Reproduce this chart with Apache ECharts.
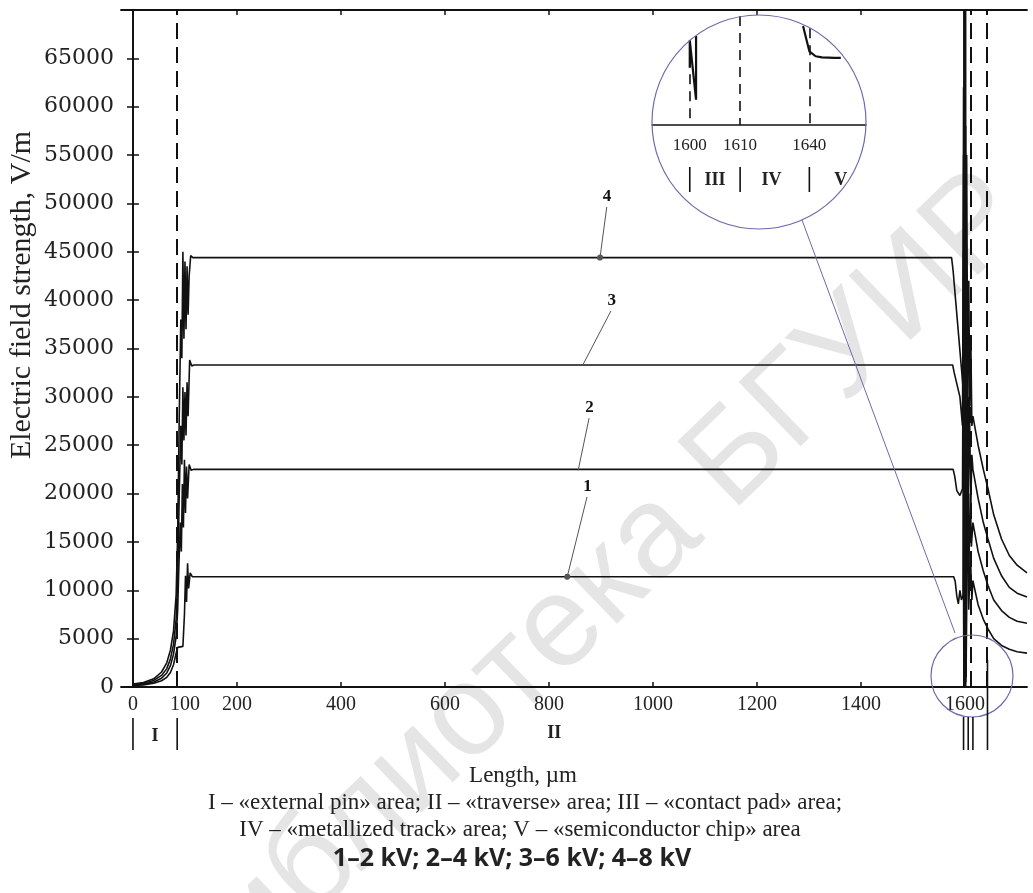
<!DOCTYPE html>
<html>
<head>
<meta charset="utf-8">
<script src="https://cdn.jsdelivr.net/npm/echarts@6/dist/echarts.min.js"></script>
<style>
html, body { margin: 0; padding: 0; background: #fff; }
#main { width: 1033px; height: 893px; }
</style>
</head>
<body>
<div id="main"></div>
<script>
// ---- data ----
const xTicks = [0, 200, 400, 600, 800, 1000, 1200, 1400, 1600];
const xLabels = [0, 100, 200, 400, 600, 800, 1000, 1200, 1400, 1600];

// field strength along the length, V/m  (x in um)
const curve2kV = [[0,150],[20,220],[40,380],[55,650],[65,1000],[72,1500],[78,2300],[83,3500],[86,4100],[96,4200],
  [99,7500],[101,11500],[103,8800],[105,12800],[107,10200],[110,11800],[114,11400],
  [1578,11400],[1581,10900],[1584,9400],[1587,8600],[1590,10000],[1593,9000],[1596,9500],
  [1597,35000],[1597.5,0],[1598,48000],[1598.5,0],[1599,50000],[1599.5,0],[1600,45000],[1600.5,0],[1601,40000],[1602,1000],
  [1604,22000],[1607,8000],[1610,14000],[1613,9000],
  [1615,11000],[1625,8500],[1635,7000],[1644,6000],[1655,5000],[1670,4300],[1685,3900],[1700,3650],[1719,3500]];
const curve4kV = [[0,200],[20,300],[40,520],[55,900],[65,1450],[72,2200],[78,3400],[83,5200],[86,8000],[88,12000],
  [91,17000],[93,14000],[95,21000],[97,16500],[99,23500],[101,18000],[103,22800],[105,19500],[108,23000],[112,22400],[116,22500],
  [1577,22500],[1580,21800],[1584,20300],[1590,19800],[1595,20500],
  [1597,45000],[1597.5,0],[1598,60000],[1598.5,0],[1599,58000],[1599.5,0],[1600,62000],[1600.5,0],[1601,50000],[1602,1500],
  [1604,30000],[1607,12000],[1610,20000],[1612,14500],
  [1615,17000],[1625,14000],[1635,12000],[1644,10500],[1655,9000],[1670,7900],[1685,7200],[1700,6800],[1719,6600]];
const curve6kV = [[0,250],[20,380],[40,680],[55,1200],[65,1900],[72,2900],[78,4400],[83,7000],[86,11000],[89,20000],
  [92,27000],[94,23000],[96,31000],[98,25500],[100,30500],[102,26000],[104,31500],[106,28000],[109,33800],[113,33200],[117,33300],
  [1576,33300],[1579,32500],[1590,30000],[1595,27000],
  [1597,55000],[1597.5,0],[1598,70000],[1598.5,0],[1599,66000],[1599.5,0],[1600,72000],[1600.5,0],[1601,58000],[1602,2000],
  [1604,40000],[1606,18000],[1608,30000],[1611,19000],[1613,24000],
  [1615,22500],[1625,19500],[1635,17000],[1644,15300],[1655,13300],[1670,11500],[1685,10300],[1700,9700],[1719,9300]];
const curve8kV = [[0,300],[20,470],[40,850],[55,1550],[65,2500],[72,3800],[78,5800],[83,9500],[86,16000],[89,28000],
  [92,38000],[94,34000],[96,45000],[98,36000],[100,44000],[102,37000],[104,43500],[106,38500],[108,42500],[111,44600],[115,44400],
  [1574,44400],[1577,43000],[1596,31000],
  [1597,62000],[1597.5,1000],[1598,75000],[1598.5,0],[1599,75000],[1599.5,0],[1600,75000],[1600.5,0],[1601,72000],[1601.5,500],
  [1603,55000],[1605,30000],[1607,42000],[1609,29000],[1611,36000],[1613,27000],
  [1615,28000],[1625,25000],[1635,22500],[1644,20500],[1655,17800],[1670,15300],[1685,13600],[1700,12600],[1719,11800]];

const curveNames = ['1', '2', '3', '4'];
const leaderFrom = [[873,19650],[877,27800],[919,38880],[911,49640]];
const leaderTo = [[835,11400],[856,22400],[865,33300],[898,44400]];
const leaderDot = [true, false, false, true];

// area borders (um)
const leftBorder = 85;
const rightBorders = [1600, 1611, 1641];

// zoomed inset, um
const insetLen = ['1592.5','1593.75','1595','1596.25','1597.5','1598.75','1600','1601.25','1602.5','1603.75','1605',
  '1606.25','1607.5','1608.75','1610','1613','1616','1619','1621','1624','1627','1630','1632','1635','1638','1640',
  '1643','1645','1648','1650','1653','1655','1658','1660','1663'];
const insetLabels = ['1600', '1610', '1640'];
const insetPad = [['1600',77],['1600',52],['1600',77],['1601.25',23],['1601.25',81]];
const insetChip = [['1638',90],['1640',67],['1643',62.5],['1645',61.5],['1650',61],['1653',61]];
const insetDashTop = [77, 99, 88];

var chartDom = document.getElementById('main');
var myChart = echarts.init(chartDom);
var option;

const ink = '#111';
const serif = '"Liberation Serif", "DejaVu Serif", serif';

const curves = [curve2kV, curve4kV, curve6kV, curve8kV];
const mainSeries = curves.map((d, i) => {
    const marks = [[
        { coord: leaderFrom[i], symbol: 'none', lineStyle: { color: '#555', width: 1, type: 'solid' },
          label: { show: true, position: 'start', formatter: curveNames[i], distance: 2,
                   color: ink, fontFamily: serif, fontSize: 17, fontWeight: 'bold' } },
        { coord: leaderTo[i], symbol: leaderDot[i] ? 'circle' : 'none', symbolSize: 6, itemStyle: { color: ink } }
    ]];
    if (i === 0) {
        marks.push({ xAxis: leftBorder });
        rightBorders.forEach(b => marks.push({ xAxis: b }));
    }
    return {
        type: 'line',
        data: d,
        symbol: 'none',
        clip: true,
        lineStyle: { color: ink, width: 1.6 },
        markLine: {
            silent: true,
            symbol: ['none', 'none'],
            label: { show: false },
            lineStyle: { color: ink, width: 2, type: [16, 8] },
            data: marks
        },
        z: 3
    };
});

option = {
    animation: false,
    backgroundColor: '#fff',
    grid: [
        { left: 121, right: 6, top: 10, bottom: 206 },
        { left: 652, top: 15, width: 214, height: 110 }
    ],
    xAxis: [
        {
            type: 'value', gridIndex: 0, min: -23, max: 1719, position: 'bottom',
            splitLine: { show: false },
            axisLine: { onZero: false, lineStyle: { color: ink, width: 1.8 } },
            axisTick: { inside: true, length: 5, customValues: xTicks, lineStyle: { color: ink, width: 1.5 } },
            axisLabel: { customValues: xLabels, formatter: v => String(v), color: '#222',
                         fontFamily: serif, fontSize: 20, margin: 8 }
        },
        {
            type: 'value', gridIndex: 0, min: -23, max: 1719, position: 'top',
            splitLine: { show: false },
            axisLine: { onZero: false, lineStyle: { color: ink, width: 1.8 } },
            axisTick: { inside: true, length: 5, customValues: xTicks, lineStyle: { color: ink, width: 1.5 } },
            axisLabel: { show: false }
        },
        {
            type: 'category', gridIndex: 1, data: insetLen, boundaryGap: false,
            axisLine: { lineStyle: { color: ink, width: 1.5 } },
            axisTick: { show: false },
            axisLabel: { interval: (i, v) => insetLabels.includes(v), color: '#222',
                         fontFamily: serif, fontSize: 17, margin: 12 }
        }
    ],
    yAxis: [
        {
            type: 'value', gridIndex: 0, min: 0, max: 70000, interval: 5000, position: 'left',
            splitLine: { show: false },
            axisLine: { show: true, lineStyle: { color: ink, width: 1.8 } },
            axisTick: { inside: true, length: 6, lineStyle: { color: ink, width: 1.5 } },
            axisLabel: { formatter: v => (v > 65000 ? '' : String(v)), color: '#222',
                         fontFamily: '"DejaVu Serif", serif', fontSize: 22, margin: 7 }
        },
        {
            type: 'value', gridIndex: 0, min: 0, max: 70000, interval: 5000, position: 'right',
            splitLine: { show: false },
            axisLine: { show: true, lineStyle: { color: ink, width: 1.8 } },
            axisTick: { inside: true, length: 6, lineStyle: { color: ink, width: 1.5 } },
            axisLabel: { show: false }
        },
        { type: 'value', gridIndex: 1, min: 0, max: 100, show: false }
    ],
    series: mainSeries.concat([
        {
            type: 'line', xAxisIndex: 2, yAxisIndex: 2, data: insetPad, symbol: 'none',
            lineStyle: { color: ink, width: 2.2 },
            markLine: {
                silent: true, symbol: ['none', 'none'], label: { show: false },
                lineStyle: { color: ink, width: 1.6, type: [10, 7] },
                data: insetLabels.map((c, i) => [{ coord: [c, insetDashTop[i]] }, { coord: [c, 0] }])
            }
        },
        {
            type: 'line', xAxisIndex: 2, yAxisIndex: 2, data: insetChip, symbol: 'none',
            lineStyle: { color: ink, width: 2.2 }
        }
    ])
};

option && myChart.setOption(option);

// ---- annotations placed through the axes ----
const px = (x, y) => myChart.convertToPixel({ gridIndex: 0 }, [x, y]);
const ipx = (c) => myChart.convertToPixel({ xAxisIndex: 2, yAxisIndex: 2 }, [c, 0])[0];
const circleColor = '#6b6baa';
const g = [];

function vline(x, y1, y2, w) {
    g.push({ type: 'line', shape: { x1: x, y1: y1, x2: x, y2: y2 }, style: { stroke: ink, lineWidth: w || 1.6 }, z: 10 });
}
function label(text, x, y, size, font, weight) {
    g.push({ type: 'text', x: x, y: y, z: 10,
        style: { text: text, fill: '#222', font: (weight || 'normal') + ' ' + size + 'px ' + (font || serif),
                 align: 'center', verticalAlign: 'middle', textAlign: 'center', textVerticalAlign: 'middle' } });
}

// library watermark (behind everything)
g.push({ type: 'text', x: 590, y: 600, rotation: Math.PI * 44 / 180, z: -1, silent: true,
    style: { text: '\u0411\u0438\u0431\u043b\u0438\u043e\u0442\u0435\u043a\u0430 \u0411\u0413\u0423\u0418\u0420',
             fill: 'rgba(0,0,0,0.1)', font: '130px "Liberation Sans", sans-serif',
             align: 'center', verticalAlign: 'middle', textAlign: 'center', textVerticalAlign: 'middle' } });

// areas below the main axis
vline(px(0, 0)[0], 718, 750);
vline(px(leftBorder, 0)[0], 718, 750);
label('I', px(leftBorder / 2, 0)[0], 736, 18, serif, 'bold');
label('II', px(810, 0)[0], 733, 18, serif, 'bold');
[1597, 1606, 1615].forEach(v => vline(px(v, 0)[0], 717, 750));
vline(px(1643, 0)[0], px(1643, 2800)[1], 750);

// inset circle, connector and small circle
g.push({ type: 'circle', shape: { cx: 759, cy: 122, r: 107 }, style: { fill: 'none', stroke: circleColor, lineWidth: 1.2 }, z: 9 });
g.push({ type: 'circle', shape: { cx: 972, cy: 676, r: 41 }, style: { fill: 'none', stroke: circleColor, lineWidth: 1.2 }, z: 9 });
g.push({ type: 'line', shape: { x1: 802, y1: 220, x2: 955, y2: 633 }, style: { stroke: circleColor, lineWidth: 1 }, z: 9 });

// inset areas
insetLabels.forEach(c => vline(ipx(c), 167, 192, 1.6));
label('III', ipx('1605'), 180, 18, serif, 'bold');
label('IV', ipx('1624'), 180, 18, serif, 'bold');
label('V', ipx('1653'), 180, 18, serif, 'bold');

// axis titles and caption
g.push({ type: 'text', x: 22, y: 295, rotation: Math.PI / 2, z: 10,
    style: { text: 'Electric field strength, V/m', fill: '#222', font: '30px ' + serif,
             align: 'center', verticalAlign: 'middle', textAlign: 'center', textVerticalAlign: 'middle' } });
label('Length, \u00b5m', 523, 776, 23);
label('I \u2013 \u00abexternal pin\u00bb area; II \u2013 \u00abtraverse\u00bb area; III \u2013 \u00abcontact pad\u00bb area;', 525, 803, 23);
label('IV \u2013 \u00abmetallized track\u00bb area; V \u2013 \u00absemiconductor chip\u00bb area', 520, 830, 23);
label('1\u20132 kV; 2\u20134 kV; 3\u20136 kV; 4\u20138 kV', 512, 859, 25, '"Noto Sans", sans-serif', 'bold');

myChart.setOption({ graphic: { elements: g } });
</script>
</body>
</html>
